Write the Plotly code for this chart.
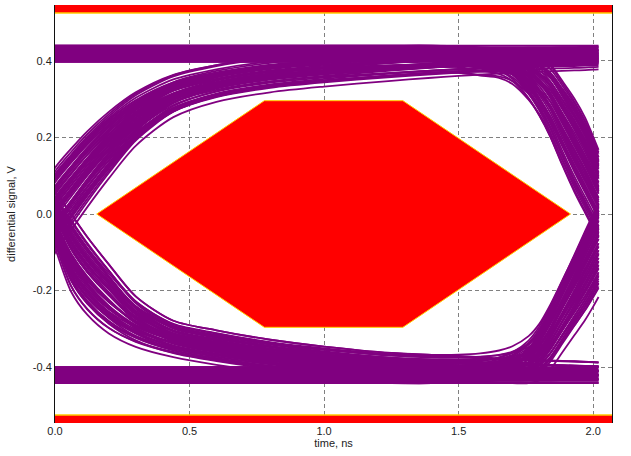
import plotly.graph_objects as go

# ---------------- data ----------------
# common time grid (ns) for all waveform templates
T = [-0.12, -0.06, 0.0, 0.06, 0.12, 0.2, 0.3, 0.44, 0.6, 0.8, 1.0, 1.25, 1.4, 1.5,
     1.58, 1.65, 1.7, 1.76, 1.8, 1.84, 1.885, 1.93, 1.97, 2.0, 2.02]

HIGH = 0.42
LOW = -0.42

# left-hand transitions (early / late boundaries of the band), V
RISE_L_EARLY = [-0.08, 0.03, 0.11, 0.16, 0.205, 0.255, 0.305, 0.35, 0.375, 0.395, 0.405, 0.41, 0.413,
                0.415, 0.416, 0.417, 0.417, 0.418, 0.418, 0.418, 0.419, 0.419, 0.42, 0.42, 0.42]
RISE_L_LATE = [-0.26, -0.17, -0.08, -0.02, 0.04, 0.115, 0.2, 0.275, 0.315, 0.34, 0.355, 0.37, 0.378,
               0.383, 0.386, 0.389, 0.39, 0.392, 0.394, 0.395, 0.396, 0.397, 0.398, 0.399, 0.40]
FALL_L_EARLY = [0.18, 0.07, -0.065, -0.181, -0.241, -0.29, -0.325, -0.352, -0.372, -0.39, -0.40, -0.41, -0.413,
                -0.415, -0.416, -0.417, -0.417, -0.418, -0.418, -0.418, -0.419, -0.419, -0.42, -0.42, -0.42]
FALL_L_LATE = [0.2, 0.11, 0.05, -0.008, -0.068, -0.14, -0.225, -0.29, -0.315, -0.34, -0.358, -0.375, -0.38,
               -0.383, -0.386, -0.389, -0.39, -0.392, -0.394, -0.395, -0.396, -0.397, -0.398, -0.399, -0.40]

# right-hand transitions (early / late boundaries of the band), V
FALL_R_EARLY = [0.42, 0.42, 0.42, 0.42, 0.42, 0.42, 0.42, 0.42, 0.42, 0.42, 0.42, 0.42, 0.42,
                0.416, 0.405, 0.395, 0.375, 0.325, 0.28, 0.225, 0.15, 0.08, 0.025, -0.015, -0.04]
FALL_R_LATE = [0.42, 0.42, 0.42, 0.42, 0.42, 0.42, 0.42, 0.42, 0.42, 0.42, 0.42, 0.42, 0.42,
               0.42, 0.42, 0.42, 0.42, 0.418, 0.41, 0.392, 0.35, 0.305, 0.255, 0.205, 0.17]
RISE_R_EARLY = [-0.42, -0.42, -0.42, -0.42, -0.42, -0.42, -0.42, -0.42, -0.42, -0.42, -0.42, -0.42, -0.42,
                -0.416, -0.408, -0.395, -0.38, -0.345, -0.305, -0.25, -0.18, -0.11, -0.045, 0.0, 0.03]
RISE_R_LATE = [-0.42, -0.42, -0.42, -0.42, -0.42, -0.42, -0.42, -0.42, -0.42, -0.42, -0.42, -0.42, -0.42,
               -0.42, -0.42, -0.42, -0.42, -0.42, -0.412, -0.385, -0.34, -0.295, -0.255, -0.22, -0.195]

# spread of the traces inside each band (0 = early boundary, 1 = late boundary)
W_LEFT = [0.0, 0.03, 0.07, 0.1, 0.14, 0.17, 0.21, 0.25, 0.29, 0.32, 0.36, 0.4, 0.44, 0.48,
          0.52, 0.55, 0.59, 0.63, 0.67, 0.71, 0.75, 0.79, 0.84, 0.88, 0.93, 0.97, 1.0]
U_RIGHT = [0.0, 0.04, 0.08, 0.11, 0.15, 0.19, 0.22, 0.26, 0.3, 0.34, 0.38, 0.42, 0.45, 0.49,
           0.53, 0.57, 0.61, 0.65, 0.69, 0.72, 0.76, 0.8, 0.84, 0.88, 0.92, 0.96, 1.0]
# level offsets of individual traces, V
DV = [-0.022, -0.019, -0.015, -0.012, -0.008, -0.005, -0.001, 0.002, 0.006, 0.009, 0.013, 0.016, 0.02]

# eye mask (hexagon) and upper/lower limit bars
MASK_T = [0.155, 0.778, 1.293, 1.916, 1.293, 0.778, 0.155]
MASK_V = [0.0, 0.296, 0.296, 0.0, -0.296, -0.296, 0.0]
BAR_LIMIT = 0.525

X_TICKS = [0.0, 0.5, 1.0, 1.5, 2.0]
X_LABELS = ["0.0", "0.5", "1.0", "1.5", "2.0"]
Y_TICKS = [-0.4, -0.2, 0.0, 0.2, 0.4]
Y_LABELS = ["-0.4", "-0.2", "0.0", "0.2", "0.4"]

X_RANGE = [0.0, 2.07]
Y_RANGE = [-0.546, 0.546]


# ---------------- build eye traces ----------------
def blend(a, b, w):
    return [ai * (1 - w) + bi * w for ai, bi in zip(a, b)]


xs, ys = [], []


def add(vals):
    xs.extend(T + [None])
    ys.extend(vals + [None])


nd, nu = len(DV), len(U_RIGHT)
for cur in (1, -1):
    level = HIGH if cur == 1 else LOW
    left_e, left_l = (RISE_L_EARLY, RISE_L_LATE) if cur == 1 else (FALL_L_EARLY, FALL_L_LATE)
    right_e, right_l = (FALL_R_EARLY, FALL_R_LATE) if cur == 1 else (RISE_R_EARLY, RISE_R_LATE)
    # steady level
    for dv in DV:
        add([level + dv] * len(T))
    # transition only at the right
    for k, u in enumerate(U_RIGHT):
        dv = DV[(k * 5) % nd]
        add([v + dv for v in blend(right_e, right_l, u)])
    # transition at the left, with or without a transition at the right
    for k, w in enumerate(W_LEFT):
        left = blend(left_e, left_l, w)
        dv = DV[(k * 3) % nd]
        add([v + dv for v in left])
        u = U_RIGHT[(k * 11) % nu]
        right = blend(right_e, right_l, u)
        dv2 = DV[(k * 7 + 4) % nd]
        add([l + (r - level) + dv2 for l, r in zip(left, right)])

fig = go.Figure()
fig.add_trace(go.Scatter(
    x=xs, y=ys, mode="lines",
    line=dict(color="#800080", width=1.8, shape="spline", smoothing=0.8),
    connectgaps=False, hoverinfo="skip", showlegend=False))

# mask
fig.add_trace(go.Scatter(
    x=MASK_T, y=MASK_V, mode="lines", fill="toself", fillcolor="#ff0000",
    line=dict(color="#ffcc00", width=1), hoverinfo="skip", showlegend=False))

# limit bars (drawn beyond the axis range so only the inner edge shows)
for sgn in (1, -1):
    fig.add_trace(go.Scatter(
        x=[-0.2, 2.3, 2.3, -0.2, -0.2],
        y=[sgn * BAR_LIMIT, sgn * BAR_LIMIT, sgn * 0.8, sgn * 0.8, sgn * BAR_LIMIT],
        mode="lines", fill="toself", fillcolor="#ff0000",
        line=dict(color="#ffcc00", width=1.5), hoverinfo="skip", showlegend=False))

font = "Liberation Sans, Arial, sans-serif"
fig.update_layout(
    width=631, height=456,
    margin=dict(l=55, r=19, t=5, b=33),
    paper_bgcolor="white", plot_bgcolor="white",
    font=dict(family=font, size=11, color="#222"),
    showlegend=False,
    hovermode=False,
    xaxis=dict(range=X_RANGE, tickvals=X_TICKS, ticktext=X_LABELS,
               showgrid=True, gridcolor="#808080", gridwidth=1, griddash="4px,3px",
               zeroline=False, showline=False, ticks="", automargin=False,
               tickfont=dict(size=11, color="#222"),
               title=dict(text="time, ns", font=dict(size=11, color="#222"), standoff=0)),
    yaxis=dict(range=Y_RANGE, tickvals=Y_TICKS, ticktext=Y_LABELS,
               showgrid=True, gridcolor="#808080", gridwidth=1, griddash="4px,3px",
               zeroline=False, showline=True, mirror=True, linecolor="#111", linewidth=1,
               ticks="", automargin=False,
               tickfont=dict(size=11, color="#222"),
               title=dict(text="differential signal, V", font=dict(size=11, color="#222"), standoff=14)),
)

fig.write_html("out.html", config={"displayModeBar": False, "staticPlot": True},
               post_script="document.body.style.margin='0px';")
